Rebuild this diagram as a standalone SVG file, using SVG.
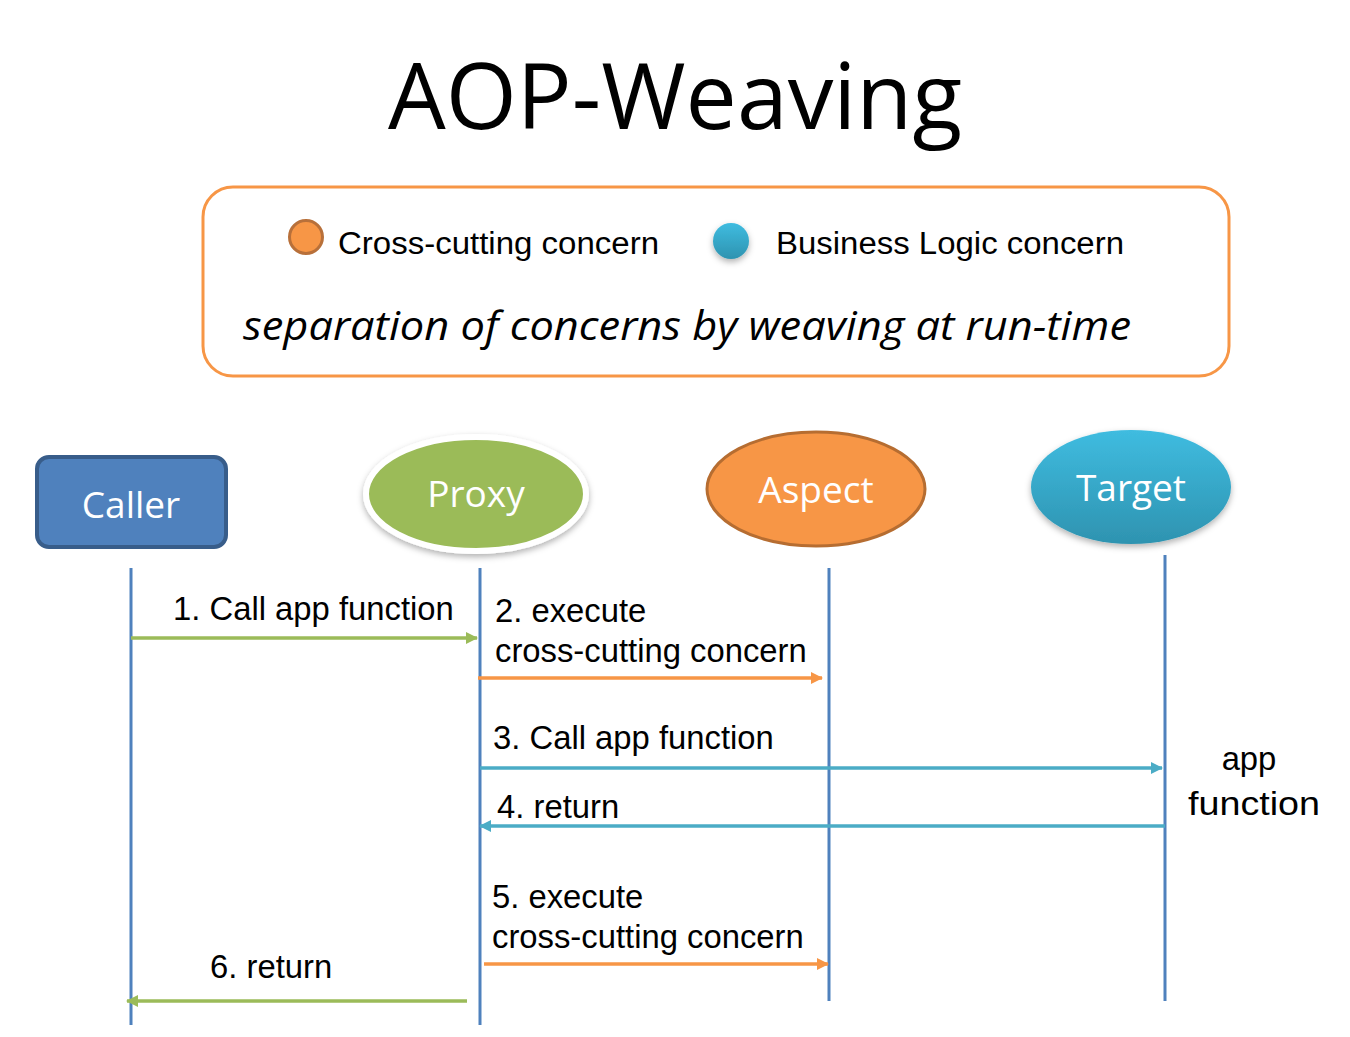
<svg xmlns="http://www.w3.org/2000/svg" width="1350" height="1037" viewBox="0 0 1350 1037">
<style>
.lbl{font-family:"Liberation Sans",Arial,sans-serif;font-size:32.8px;fill:#000}
.node{font-family:"Open Sans","Noto Sans",sans-serif;font-size:37px;fill:#fff;text-anchor:middle}
.life{stroke:#4F81BD;stroke-width:3;fill:none}
.g{stroke:#9BBB59;stroke-width:3.5;fill:none}
.o{stroke:#F79646;stroke-width:3.5;fill:none}
.b{stroke:#4BACC6;stroke-width:3.5;fill:none}
</style>
<defs>
<marker id="ag" markerWidth="12" markerHeight="12" refX="11" refY="6" orient="auto" markerUnits="userSpaceOnUse"><path d="M0,0 L12,6 L0,12 z" fill="#9BBB59"/></marker>
<marker id="ao" markerWidth="12" markerHeight="12" refX="11" refY="6" orient="auto" markerUnits="userSpaceOnUse"><path d="M0,0 L12,6 L0,12 z" fill="#F79646"/></marker>
<marker id="ab" markerWidth="12" markerHeight="12" refX="11" refY="6" orient="auto" markerUnits="userSpaceOnUse"><path d="M0,0 L12,6 L0,12 z" fill="#4BACC6"/></marker>
<linearGradient id="tg" x1="0" y1="0" x2="0" y2="1">
<stop offset="0" stop-color="#3FBCE0"/><stop offset="1" stop-color="#2E93B0"/>
</linearGradient>
<filter id="sh" x="-20%" y="-20%" width="140%" height="150%">
<feDropShadow dx="0" dy="3" stdDeviation="3" flood-color="#000" flood-opacity="0.3"/>
</filter>
</defs>
<rect width="1350" height="1037" fill="#fff"/>
<text x="675" y="129" text-anchor="middle" font-family="'Open Sans','Noto Sans',sans-serif" font-size="92" textLength="574" lengthAdjust="spacingAndGlyphs">AOP-Weaving</text>

<g id="legend">
<rect x="203" y="187" width="1026" height="189" rx="30" fill="#fff" stroke="#F79646" stroke-width="3"/>
<circle cx="306" cy="237" r="16.5" fill="#F79646" stroke="#B8703A" stroke-width="3"/>
<text x="338" y="254" font-family="'Liberation Sans',Arial,sans-serif" font-size="31" textLength="321" lengthAdjust="spacingAndGlyphs">Cross-cutting concern</text>
<circle cx="731" cy="241" r="18" fill="url(#tg)" filter="url(#sh)"/>
<text x="776" y="254" font-family="'Liberation Sans',Arial,sans-serif" font-size="31" textLength="348" lengthAdjust="spacingAndGlyphs">Business Logic concern</text>
<text x="243" y="340" font-family="'Open Sans','Noto Sans',sans-serif" font-style="italic" font-size="40" textLength="888" lengthAdjust="spacingAndGlyphs">separation of concerns by weaving at run-time</text>
</g>

<g id="caller">
<rect x="37" y="457" width="189" height="90" rx="12" fill="#4F81BD" stroke="#385D8A" stroke-width="4"/>
<text class="node" x="131" y="518">Caller</text>
</g>
<g id="proxy">
<ellipse cx="476" cy="494" rx="110" ry="57" fill="#9BBB59" stroke="#fff" stroke-width="6" filter="url(#sh)"/>
<text class="node" x="476" y="507">Proxy</text>
</g>
<g id="aspect">
<ellipse cx="816" cy="489" rx="109" ry="57" fill="#F79646" stroke="#B66D31" stroke-width="3"/>
<text class="node" x="816" y="503">Aspect</text>
</g>
<g id="target">
<ellipse cx="1131" cy="487" rx="100" ry="57" fill="url(#tg)" filter="url(#sh)"/>
<text class="node" x="1131" y="501">Target</text>
</g>

<g id="lifelines">
<line class="life" x1="131" y1="568" x2="131" y2="1025"/>
<line class="life" x1="480" y1="568" x2="480" y2="1025"/>
<line class="life" x1="829" y1="568" x2="829" y2="1001"/>
<line class="life" x1="1165" y1="555" x2="1165" y2="1001"/>
</g>

<g id="connectors">
<line class="g" x1="131" y1="638" x2="477" y2="638" marker-end="url(#ag)"/>
<line class="o" x1="478" y1="678" x2="822" y2="678" marker-end="url(#ao)"/>
<line class="b" x1="480" y1="768" x2="1162" y2="768" marker-end="url(#ab)"/>
<line class="b" x1="1165" y1="826" x2="480" y2="826" marker-end="url(#ab)"/>
<line class="o" x1="484" y1="964" x2="828" y2="964" marker-end="url(#ao)"/>
<line class="g" x1="467" y1="1001" x2="127" y2="1001" marker-end="url(#ag)"/>
</g>

<g id="labels">
<text class="lbl" x="173" y="620">1. Call app function</text>
<text class="lbl" x="495" y="622">2. execute</text>
<text class="lbl" x="495" y="662">cross-cutting concern</text>
<text class="lbl" x="493" y="749">3. Call app function</text>
<text class="lbl" x="497" y="818">4. return</text>
<text class="lbl" x="492" y="908">5. execute</text>
<text class="lbl" x="492" y="948">cross-cutting concern</text>
<text class="lbl" x="210" y="978">6. return</text>
<text class="lbl" x="1249" y="770" text-anchor="middle" font-size="39">app</text>
<text class="lbl" x="1254" y="815" text-anchor="middle" font-size="39" textLength="132" lengthAdjust="spacingAndGlyphs">function</text>
</g>
</svg>
